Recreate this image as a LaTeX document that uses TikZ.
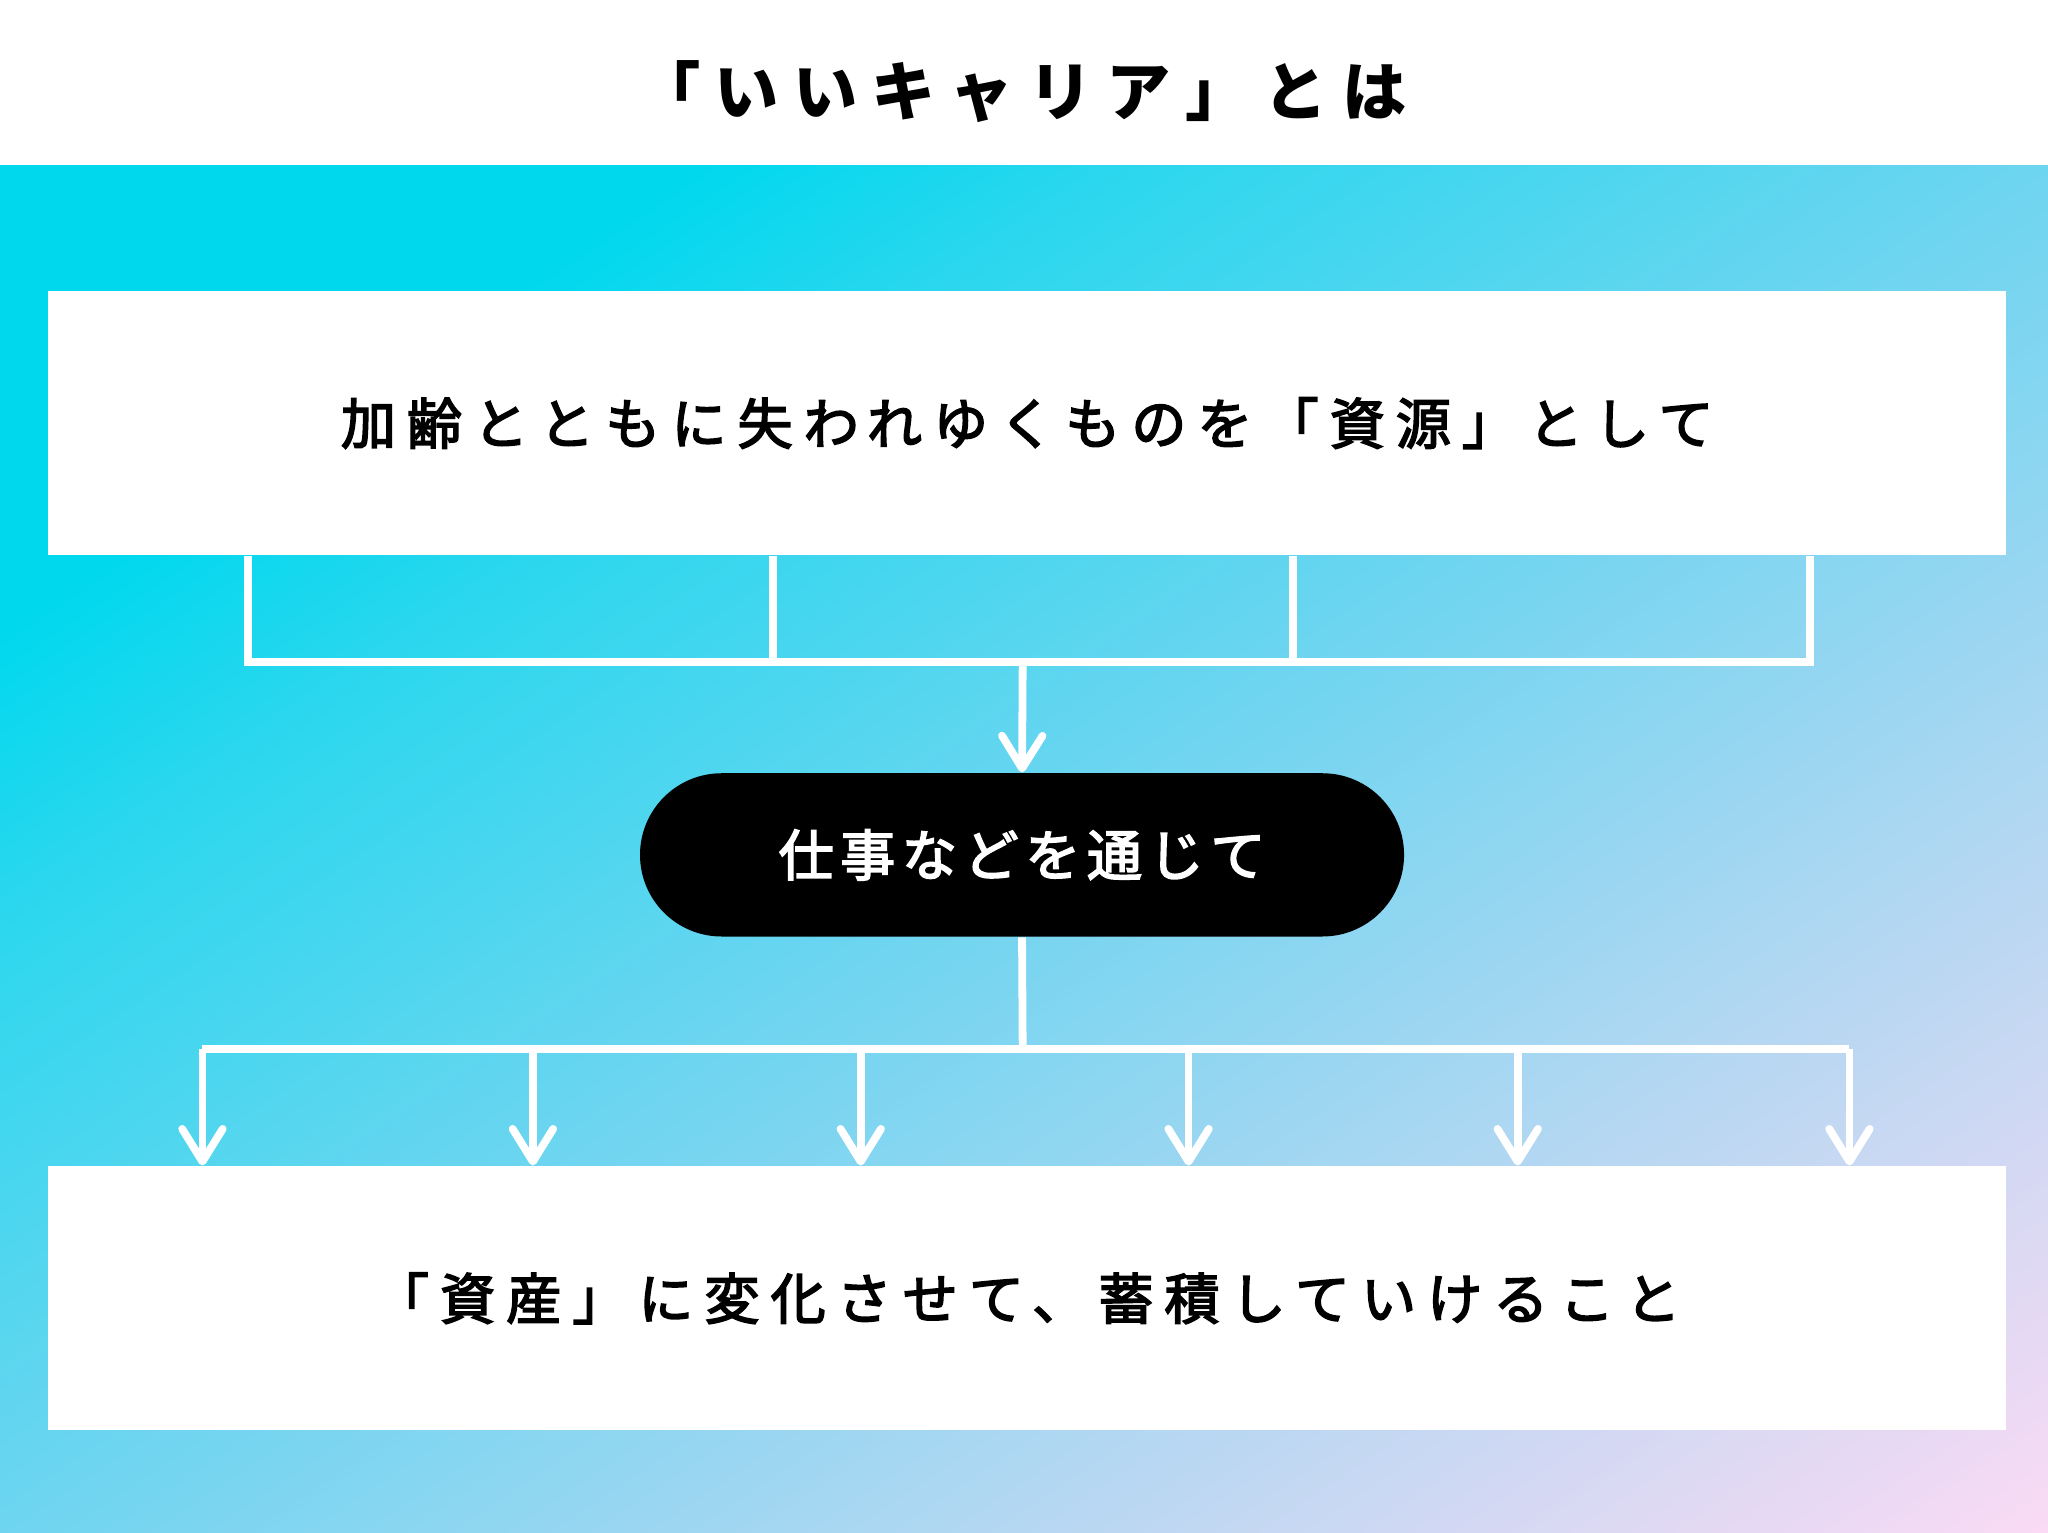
\documentclass[tikz,border=0pt]{standalone}
\usepackage{fontspec}
\newfontfamily\jpbox[LetterSpace=20, FakeBold=3]{Noto Sans CJK JP}
\newfontfamily\jppill[LetterSpace=12, FakeBold=3]{Noto Sans CJK JP}
\newfontfamily\jptitle[LetterSpace=22]{Noto Sans CJK JP}
\usetikzlibrary{positioning,arrows.meta}
\definecolor{bgcyan}{HTML}{00D8EE}
\definecolor{bgaqua}{HTML}{2AD7EE}
\definecolor{bgblue}{HTML}{6ED5F0}
\definecolor{bglilac}{HTML}{B4D7F2}
\definecolor{bgpink}{HTML}{FADAF4}
\pgfdeclarehorizontalshading{bgfade}{100bp}{color(0bp)=(bgcyan); color(33.5bp)=(bgcyan); color(38.5bp)=(bgaqua); color(50bp)=(bgblue); color(62.25bp)=(bglilac); color(75bp)=(bgpink); color(100bp)=(bgpink)}
\tikzset{
  box/.style={fill=white, minimum width=149.9mm, minimum height=20.2mm, inner sep=0pt, font=\jpbox\fontsize{12pt}{14pt}\selectfont},
  pill/.style={fill=black, text=white, rounded corners=6.25mm, minimum width=58.5mm, minimum height=12.5mm, inner sep=0pt, font=\jppill\fontsize{12pt}{14pt}\selectfont},
  link/.style={white, line width=1.7pt},
  arr/.style={link, -{Straight Barb[round,length=2.5mm,width=3.1mm]}},
}
\begin{document}
\begin{tikzpicture}[x=0.1mm, y=-0.1mm]
\fill[white] (0,0) rectangle (1568,1173);
\begin{scope}
  \clip (0,127) rectangle (1568,1173);
  \shade[shading=bgfade, shading angle=-56.3] (-86,-220) rectangle (1654,1520);
\end{scope}
\useasboundingbox (0,0) rectangle (1568,1173);

\node[font=\jptitle\bfseries\fontsize{14pt}{17pt}\selectfont] (title) at (782,70) {「いいキャリア」とは};
\node[box] (resource) at (786.5,324) {加齢とともに失われゆくものを「資源」として};
\node[pill] (work) at (782.5,654.5) {仕事などを通じて};
\node[box] (asset) at (786.5,994) {「資産」に変化させて、蓄積していけること};

\coordinate (split) at (783,507);
\coordinate (bus) at (783,803);
\foreach \x [count=\i] in {190,592,990,1386}
  \coordinate (t\i) at (\x,507);
\foreach \x [count=\i] in {155,408,659,910,1162,1416}
  \coordinate (b\i) at (\x,803);

\draw[link] (t1 |- resource.south) -- (t1) -- (t4) -- (t4 |- resource.south);
\draw[link] (t2 |- resource.south) -- (t2);
\draw[link] (t3 |- resource.south) -- (t3);
\draw[arr] (split) -- (work.north);

\draw[link] (work.south) -- (bus);
\draw[link] (b1) -- (b6);
\foreach \i in {1,...,6}
  \draw[arr] (b\i) -- (b\i |- asset.north);
\end{tikzpicture}
\end{document}
